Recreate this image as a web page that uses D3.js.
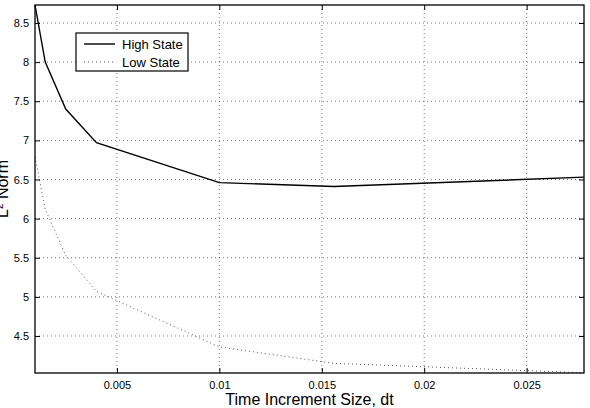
<!DOCTYPE html>
<meta charset="utf-8">
<style>
body { margin: 0; background: #fff; }
text { font-family: "Liberation Sans", Arial, sans-serif; fill: #000; }
.grid line { stroke: #555; stroke-width: 0.8; stroke-dasharray: 1,3; }
</style>
<body>
<script src="https://d3js.org/d3.v7.min.js"></script>
<script>

// time step sizes (dt) and L2 norm for both states
var dt = [0.001, 0.0015, 0.0025, 0.004, 0.01, 0.0156, 0.0278];
var highState = [8.73, 8.0, 7.4, 6.97, 6.46, 6.41, 6.53];
var lowState = [6.79, 6.12, 5.53, 5.07, 4.36, 4.15, 4.03];
var xTicks = [0.005, 0.01, 0.015, 0.02, 0.025];
var yTicks = [4.5, 5, 5.5, 6, 6.5, 7, 7.5, 8, 8.5];
var seriesNames = ["High State", "Low State"];

var W = 590, H = 408;
var margin = {top: 5, right: 6, bottom: 35, left: 35},
    width = W - margin.left - margin.right,
    height = H - margin.top - margin.bottom;

var x = d3.scaleLinear().domain([0.001, 0.0278]).range([0, width]);
var y = d3.scaleLinear().domain([4.027, 8.73]).range([height, 0]);

var svg = d3.select("body").append("svg")
    .attr("width", W)
    .attr("height", H)
  .append("g")
    .attr("transform", "translate(" + margin.left + "," + margin.top + ")");

// dotted grid
svg.append("g").attr("class", "grid")
  .selectAll("line").data(xTicks).enter().append("line")
  .attr("x1", function(d) { return x(d); }).attr("x2", function(d) { return x(d); })
  .attr("y1", 0).attr("y2", height);
svg.append("g").attr("class", "grid")
  .selectAll("line").data(yTicks).enter().append("line")
  .attr("y1", function(d) { return y(d); }).attr("y2", function(d) { return y(d); })
  .attr("x1", 0).attr("x2", width);

// axes, ticks pointing inward like matlab
var fmt = function(d) { return String(d); };
var gx = svg.append("g").attr("transform", "translate(0," + height + ")")
  .call(d3.axisBottom(x).tickValues(xTicks).tickFormat(fmt).tickSizeInner(-5).tickSizeOuter(0).tickPadding(8));
var gxt = svg.append("g")
  .call(d3.axisTop(x).tickValues(xTicks).tickFormat("").tickSizeInner(-5).tickSizeOuter(0));
var gy = svg.append("g")
  .call(d3.axisLeft(y).tickValues(yTicks).tickFormat(fmt).tickSizeInner(-5).tickSizeOuter(0).tickPadding(6));
var gyr = svg.append("g").attr("transform", "translate(" + width + ",0)")
  .call(d3.axisRight(y).tickValues(yTicks).tickFormat("").tickSizeInner(-5).tickSizeOuter(0));
[gx, gxt, gy, gyr].forEach(function(g) {
  g.select(".domain").remove();
  g.selectAll(".tick line").attr("stroke", "#000");
  g.selectAll("text").style("font-size", "11px").attr("fill", "#000");
});

var line = d3.line()
  .x(function(d, i) { return x(dt[i]); })
  .y(function(d) { return y(d); });

svg.append("path").datum(lowState)
  .attr("fill", "none").attr("stroke", "#555").attr("stroke-width", 1)
  .attr("stroke-dasharray", "1,3").attr("d", line);
svg.append("path").datum(highState)
  .attr("fill", "none").attr("stroke", "#000").attr("stroke-width", 1.4)
  .attr("d", line);

// box
svg.append("rect").attr("width", width).attr("height", height)
  .attr("fill", "none").attr("stroke", "#000").attr("stroke-width", 1.3);

// labels
svg.append("text")
  .attr("x", width / 2).attr("y", height + 32)
  .attr("text-anchor", "middle").style("font-size", "16px")
  .text("Time Increment Size, dt");

var yl = svg.append("text")
  .attr("transform", "translate(" + (8 - margin.left) + "," + (height / 2) + ") rotate(-90)")
  .attr("text-anchor", "middle").style("font-size", "16px");
yl.append("tspan").text("L");
yl.append("tspan").attr("baseline-shift", "super").style("font-size", "10px").text("2");
yl.append("tspan").text(" Norm");

// legend
var leg = svg.append("g").attr("transform", "translate(" + (76 - margin.left) + "," + (33 - margin.top) + ")");
leg.append("rect").attr("width", 112).attr("height", 38)
  .attr("fill", "#fff").attr("stroke", "#000").attr("stroke-width", 1.2);
seriesNames.forEach(function(name, i) {
  var yy = 11 + i * 18;
  leg.append("line").attr("x1", 8).attr("x2", 39).attr("y1", yy).attr("y2", yy)
    .attr("stroke", i ? "#555" : "#000").attr("stroke-width", i ? 1 : 1.4)
    .attr("stroke-dasharray", i ? "1,3" : null);
  leg.append("text").attr("x", 46).attr("y", yy + 5)
    .style("font-size", "13px").text(name);
});

</script>
</body>
